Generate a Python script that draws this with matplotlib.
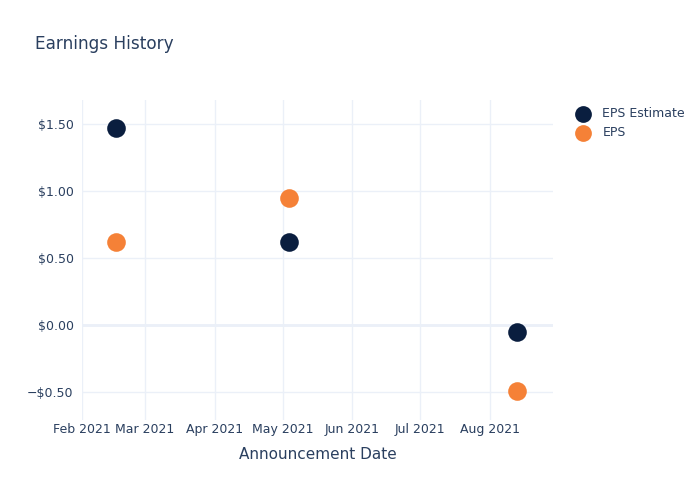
import matplotlib
matplotlib.use("Agg")
import matplotlib.pyplot as plt
import matplotlib.dates as mdates
import numpy as np
import datetime as dt

dates = ["2021-02-16", "2021-05-04", "2021-08-13"]
eps_estimate = [1.47, 0.62, -0.05]
eps_actual = [0.62, 0.95, -0.49]
yticks = [-0.5, 0.0, 0.5, 1.0, 1.5]

x = [dt.datetime.strptime(d, "%Y-%m-%d") for d in dates]

txt = "#2a3f5f"
grid = "#ebf0f8"
navy = "#0a1e3f"
orange = "#f58137"

fig = plt.figure(figsize=(7, 5), dpi=100)
ax = fig.add_axes([82/700, 1-420/500, (553-82)/700, (420-100)/500])

ax.scatter(x, eps_estimate, s=180, color=navy, label="EPS Estimate", zorder=3, linewidths=0)
ax.scatter(x, eps_actual, s=180, color=orange, label="EPS", zorder=3, linewidths=0)

ax.set_xlim(dt.datetime(2021, 2, 1), dt.datetime(2021, 8, 29))
ax.set_ylim(-0.709, 1.68)
ax.set_yticks(yticks)
def fmt(v, p):
    s = f"${abs(v):.2f}"
    return ("\u2212" + s) if v < 0 else s
ax.yaxis.set_major_formatter(plt.FuncFormatter(fmt))
ax.xaxis.set_major_locator(mdates.MonthLocator())
ax.xaxis.set_major_formatter(mdates.DateFormatter("%b %Y"))

ax.grid(True, color=grid, linewidth=1, zorder=0)
ax.axhline(0, color=grid, linewidth=2, zorder=1)
for s in ax.spines.values():
    s.set_visible(False)
ax.tick_params(length=0, colors=txt, labelsize=9, pad=6)
ax.tick_params(axis="x", pad=2)

ax.set_xlabel("Announcement Date", color=txt, fontsize=11, labelpad=8)
fig.text(35/700, 1-44/500, "Earnings History", color=txt, fontsize=12.2, va="center", ha="left")

leg = fig.legend(loc="upper left", bbox_to_anchor=(565/700, 1-102/500), frameon=False,
                 fontsize=9, labelcolor=txt, handletextpad=0.6, labelspacing=0.5,
                 borderaxespad=0, markerscale=0.9)

fig.savefig("out.png", dpi=100)
